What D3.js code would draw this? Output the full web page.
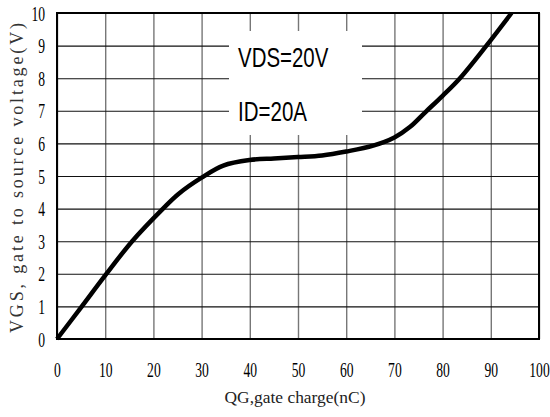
<!DOCTYPE html>
<html>
<head>
<meta charset="utf-8">
<script src="https://cdn.jsdelivr.net/npm/d3@7"></script>
<style>
  body { margin: 0; background: #fff; }
  svg { display: block; }
</style>
</head>
<body>
<script>
// gate charge curve
var qg  = [0, 5, 10, 15.6, 22, 25.2, 30, 34.5, 40, 45, 50, 55, 60, 65.6, 70, 73.2, 76.5, 80, 83.6, 89.1, 94.3];
var vgs = [0, 0.97, 1.95, 3, 4, 4.45, 4.95, 5.32, 5.49, 5.54, 5.58, 5.63, 5.75, 5.93, 6.18, 6.5, 6.97, 7.46, 8, 9, 10];
var xTicks = [0, 10, 20, 30, 40, 50, 60, 70, 80, 90, 100];
var yTicks = [0, 1, 2, 3, 4, 5, 6, 7, 8, 9, 10];
var notes = ["VDS=20V", "ID=20A"];

var W = 550, H = 417;
var plotL = 57, plotR = 539, plotT = 13, plotB = 339;
var squeeze = 0.68; // tick digits are tall and narrow

var svg = d3.select("body").append("svg")
  .attr("width", W)
  .attr("height", H);

var x = d3.scaleLinear().domain([0, 100]).range([plotL, plotR]);
var y = d3.scaleLinear().domain([0, 10]).range([plotB, plotT]);

// grid: vertical lines grey, horizontal black
svg.append("g")
  .attr("transform", "translate(0," + plotB + ")")
  .call(d3.axisBottom(x).tickValues(xTicks).tickSize(-(plotB - plotT)).tickFormat(""))
  .call(function(g) {
    g.select(".domain").remove();
    g.selectAll("line").attr("stroke", "#777").attr("stroke-width", 1.4);
  });

svg.append("g")
  .attr("transform", "translate(" + plotL + ",0)")
  .call(d3.axisLeft(y).tickValues(yTicks).tickSize(-(plotR - plotL)).tickFormat(""))
  .call(function(g) {
    g.select(".domain").remove();
    g.selectAll("line").attr("stroke", "#111").attr("stroke-width", 1.1);
  });

// white label box over the grid
svg.append("rect")
  .attr("x", 229).attr("y", 31)
  .attr("width", 133).attr("height", 104)
  .attr("fill", "#fff");

svg.selectAll("text.note")
  .data(notes)
  .enter()
  .append("text")
  .attr("class", "note")
  .attr("x", 238)
  .attr("y", function(d, i) { return 67 + i * 54; })
  .attr("font-family", "'Liberation Sans Narrow', 'Liberation Sans', sans-serif")
  .attr("font-size", 28)
  .attr("textLength", function(d) { return d.length * (d == "VDS=20V" ? 12.9 : 11.5); })
  .attr("lengthAdjust", "spacingAndGlyphs")
  .attr("fill", "#000")
  .text(function(d) { return d; });

// frame
svg.append("rect")
  .attr("x", plotL).attr("y", plotT)
  .attr("width", plotR - plotL).attr("height", plotB - plotT)
  .attr("fill", "none")
  .attr("stroke", "#000")
  .attr("stroke-width", 2);

// curve
var pts = qg.map(function(d, i) { return [d, vgs[i]]; });
var line = d3.line()
  .x(function(d) { return x(d[0]); })
  .y(function(d) { return y(d[1]); })
  .curve(d3.curveCatmullRom.alpha(0.5));

svg.append("path")
  .datum(pts)
  .attr("d", line)
  .attr("fill", "none")
  .attr("stroke", "#000")
  .attr("stroke-width", 4.5)
  .attr("stroke-linejoin", "round")
  .attr("stroke-linecap", "butt");

// tick labels
var serif = "'Liberation Serif', 'DejaVu Serif', serif";

svg.append("g")
  .attr("transform", "translate(0," + plotB + ")")
  .call(d3.axisBottom(x).tickValues(xTicks).tickSize(0).tickFormat(d3.format("d")))
  .call(function(g) {
    g.select(".domain").remove();
    g.selectAll("text")
      .attr("x", 0).attr("y", 38).attr("dy", null)
      .attr("transform", "scale(" + squeeze + ",1)")
      .attr("font-family", serif)
      .attr("font-size", 20)
      .attr("fill", "#000");
  });

svg.append("g")
  .attr("transform", "translate(" + plotL + ",0)")
  .call(d3.axisLeft(y).tickValues(yTicks).tickSize(0).tickFormat(d3.format("d")))
  .call(function(g) {
    g.select(".domain").remove();
    g.selectAll("text")
      .attr("x", -12 / squeeze).attr("dy", "0.35em")
      .attr("transform", "scale(" + squeeze + ",1)")
      .attr("font-family", serif)
      .attr("font-size", 20)
      .attr("fill", "#000");
  });

// axis titles
svg.append("text")
  .attr("x", 295).attr("y", 403)
  .attr("text-anchor", "middle")
  .attr("font-family", serif)
  .attr("font-size", 16)
  .attr("textLength", 141)
  .attr("lengthAdjust", "spacingAndGlyphs")
  .attr("fill", "#222")
  .text("QG,gate charge(nC)");

svg.append("text")
  .attr("transform", "translate(23,178) rotate(-90)")
  .attr("text-anchor", "middle")
  .attr("font-family", serif)
  .attr("font-size", 18)
  .attr("textLength", 310)
  .attr("lengthAdjust", "spacing")
  .attr("fill", "#333")
  .text("VGS, gate to source voltage(V)");
</script>
</body>
</html>
